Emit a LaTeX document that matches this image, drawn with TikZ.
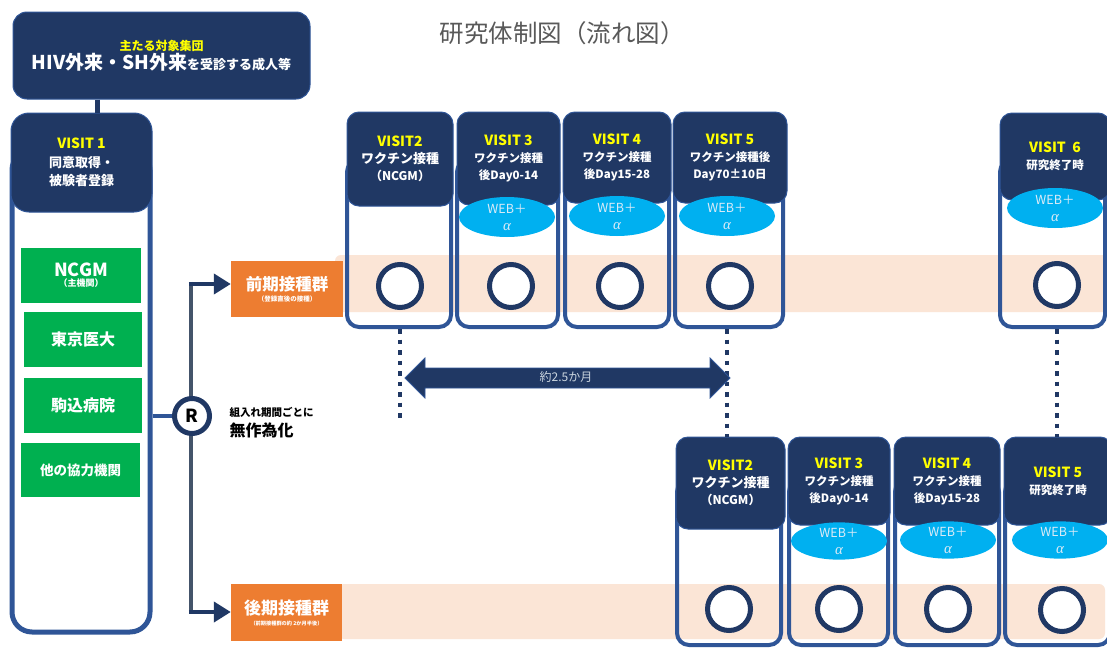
\documentclass[tikz,border=0pt]{standalone}
\usepackage{fontspec}
\setmainfont{Noto Sans CJK JP}
\newfontfamily\alphafont{Liberation Serif}
\usetikzlibrary{shapes.geometric,arrows.meta}
\definecolor{navy}{HTML}{203864}
\definecolor{bordblue}{HTML}{2F5597}
\definecolor{peach}{HTML}{FBE5D6}
\definecolor{orng}{HTML}{ED7D31}
\definecolor{grn}{HTML}{00B050}
\definecolor{cyanb}{HTML}{00B0F0}
\definecolor{yel}{HTML}{FFFF00}
\definecolor{lightt}{HTML}{DDEBF7}
\definecolor{vgray}{HTML}{44546A}
\definecolor{titlegray}{HTML}{595959}
\newcommand\fsz[2]{\fontsize{#1}{#2}\selectfont}
\newcommand\webtxt{WEB＋\\{\alphafont\itshape\fsz{15}{17}α}}
\begin{document}
\begin{tikzpicture}[x=1pt,y=-1pt,
  hdr/.style={draw=bordblue, line width=1pt, fill=navy, rounded corners=12pt, text=white, align=center, inner sep=0pt, font=\bfseries\fsz{11.5}{17}},
  outerbox/.style={draw=bordblue, line width=4pt, rounded corners=12pt, inner sep=0pt},
  web/.style={ellipse, fill=cyanb, minimum width=96pt, minimum height=40pt, inner sep=0pt, align=center, text=lightt, font=\fsz{12.5}{17}},
  ring/.style={circle, draw=navy, line width=5pt, fill=white, minimum size=43pt, inner sep=0pt},
  grnbox/.style={fill=grn, text=white, align=center, inner sep=0pt, font=\bfseries},
  orgbox/.style={fill=orng, text=white, align=center, inner sep=0pt, font=\bfseries},
  dots/.style={draw=navy, line width=4.5pt, dash pattern=on 4.5pt off 6pt},
  arr/.style={draw=navy, line width=4pt, -{Triangle[length=17pt,width=20pt]}}
]
\useasboundingbox (0,0) rectangle (1107,648);
\fill[white] (0,0) rectangle (1107,648);

% title
\node[text=titlegray, font=\fsz{24.5}{28}] (title) at (562,33) {研究体制図（流れ図）};

% top box
\node[hdr, rounded corners=14pt, minimum width=297pt, minimum height=87pt] (tb) at (161.5,55.5)
  {{\color{yel}\fsz{12}{18}主たる対象集団}\\{\fsz{19}{22}HIV外来・SH外来}{\fsz{13}{22}を受診する成人等}};

% VISIT 1 column
\node[outerbox, line width=5pt, rounded corners=20pt, minimum width=138pt, minimum height=482pt] (v1o) at (81,391) {};
\node[hdr, rounded corners=18pt, minimum width=141pt, minimum height=99pt, font=\bfseries\fsz{13}{18.5}] (v1h) at (81.5,162.5)
  {{\color{yel}\fsz{14}{18.5}VISIT 1}\\同意取得・\\被験者登録};
\coordinate (c1) at (97,0);
\draw[navy, line width=5pt] (tb.south -| c1) -- (v1h.north -| c1);

\node[grnbox, minimum width=120pt, minimum height=55pt] (g1) at (81,275.5)
  {{\fsz{18}{20}NCGM}\\[-2pt]{\fsz{9}{11}（主機関）}};
\node[grnbox, minimum width=118pt, minimum height=55pt, font=\bfseries\fsz{16}{18}] (g2) at (83,339.5) {東京医大};
\node[grnbox, minimum width=118pt, minimum height=55pt, font=\bfseries\fsz{16}{18}] (g3) at (83,405.5) {駒込病院};
\node[grnbox, minimum width=119pt, minimum height=54pt, font=\bfseries\fsz{13.5}{16}] (g4) at (80.5,470) {他の協力機関};

% bands
\fill[peach, rounded corners=6pt] (335,255) rectangle (1125,312);
\fill[peach, rounded corners=6pt] (338,584) rectangle (1105,639);

% orange group boxes
\node[orgbox, minimum width=112pt, minimum height=56pt] (pre) at (287,289)
  {{\fsz{16.5}{19}前期接種群}\\[-1pt]{\fsz{6.5}{8}（登録直後の接種）}};
\node[orgbox, minimum width=111pt, minimum height=57pt] (post) at (286.5,612.5)
  {{\fsz{17}{19}後期接種群}\\[-1pt]{\fsz{5.2}{7}（前期接種群の約 2か月半後）}};

% randomisation
\coordinate (ka) at (191,284);
\coordinate (kb) at (191,612);
\draw[vgray, line width=4.5pt] ([yshift=2.25pt]ka) -- (kb);
\draw[arr] ([xshift=-2.25pt]ka) -- (ka -| pre.west);
\draw[arr] ([xshift=-2.25pt]kb) -- (kb -| post.west);
\node[ring, minimum size=35pt, font=\bfseries\fsz{18}{20}, text=black] (R) at (192,416) {R};
\draw[bordblue, line width=4pt] (v1o.east |- R) -- (R.west);
\node[anchor=west, font=\bfseries\fsz{10.5}{12}] (rt1) at (226,412) {組入れ期間ごとに};
\node[anchor=west, font=\bfseries\fsz{16}{18}] (rt2) at (226,430) {無作為化};

% top row outer columns
\node[outerbox, minimum width=104pt, minimum height=167pt] (v2o) at (399,243.5) {};
\node[outerbox, minimum width=101pt, minimum height=167pt] (v3o) at (507.5,243.5) {};
\node[outerbox, minimum width=104pt, minimum height=167pt] (v4o) at (617,243.5) {};
\node[outerbox, minimum width=108pt, minimum height=167pt] (v5o) at (729,243.5) {};
\node[outerbox, minimum width=105pt, minimum height=167pt] (v6o) at (1052.5,243.5) {};

% top row headers
\node[hdr, minimum width=106pt, minimum height=94pt, font=\bfseries\fsz{13}{17}] (v2h) at (400,159)
  {{\color{yel}\fsz{14}{17}VISIT2}\\ワクチン接種\\{\fsz{12}{17}（NCGM）}};
\node[hdr, minimum width=103pt, minimum height=93pt] (v3h) at (508.5,158.5)
  {{\color{yel}\fsz{14}{17}VISIT 3}\\ワクチン接種\\後Day0-14};
\node[hdr, minimum width=108pt, minimum height=91pt] (v4h) at (617,157.5)
  {{\color{yel}\fsz{14}{17}VISIT 4}\\ワクチン接種\\後Day15-28};
\node[hdr, minimum width=114pt, minimum height=91pt] (v5h) at (730,157.5)
  {{\color{yel}\fsz{14}{17}VISIT 5}\\ワクチン接種後\\Day70±10日};
\node[hdr, minimum width=110pt, minimum height=87pt] (v6h) at (1055,156.5)
  {{\color{yel}\fsz{14}{17}VISIT\ \ 6}\\研究終了時};

% top row ellipses
\node[web] (w3) at (507,217) {\webtxt};
\node[web] (w4) at (617,216) {\webtxt};
\node[web] (w5) at (727,216) {\webtxt};
\node[web] (w6) at (1055,208) {\webtxt};

% top row rings
\node[ring] (r2) at (400,286) {};
\node[ring] (r3) at (511,286) {};
\node[ring] (r4) at (620,286) {};
\node[ring] (r5) at (730,286) {};
\node[ring] (r6) at (1057,285) {};

% bottom row outer columns
\node[outerbox, minimum width=104pt, minimum height=165pt] (b2o) at (729,562.5) {};
\node[outerbox, minimum width=99pt, minimum height=165pt] (b3o) at (838.5,562.5) {};
\node[outerbox, minimum width=104pt, minimum height=165pt] (b4o) at (947,562.5) {};
\node[outerbox, minimum width=105pt, minimum height=165pt] (b5o) at (1057.5,562.5) {};

% bottom row headers
\node[hdr, minimum width=109pt, minimum height=92pt, font=\bfseries\fsz{13}{17}] (b2h) at (730.5,483)
  {{\color{yel}\fsz{14}{17}VISIT2}\\ワクチン接種\\{\fsz{12}{17}（NCGM）}};
\node[hdr, minimum width=102pt, minimum height=88pt] (b3h) at (839,481)
  {{\color{yel}\fsz{14}{17}VISIT 3}\\ワクチン接種\\後Day0-14};
\node[hdr, minimum width=106pt, minimum height=88pt] (b4h) at (947,481)
  {{\color{yel}\fsz{14}{17}VISIT 4}\\ワクチン接種\\後Day15-28};
\node[hdr, minimum width=108pt, minimum height=88pt] (b5h) at (1058,481)
  {{\color{yel}\fsz{14}{17}VISIT 5}\\研究終了時};

% bottom row ellipses
\node[web, minimum height=36pt] (x3) at (839,541) {\webtxt};
\node[web, minimum height=36pt] (x4) at (948,540) {\webtxt};
\node[web, minimum height=36pt] (x5) at (1060,540) {\webtxt};

% bottom row rings
\node[ring] (s2) at (729,609) {};
\node[ring] (s3) at (839,609) {};
\node[ring] (s4) at (948,609) {};
\node[ring] (s5) at (1062,610) {};

% dotted lines
\coordinate (d1) at (400,420);
\draw[dots] (v2o.south -| d1) -- (d1);
\coordinate (d2) at (727,0);
\draw[dots] (v5o.south -| d2) -- (b2h.north -| d2);
\coordinate (d3) at (1057,0);
\draw[dots] (v6o.south -| d3) -- (b5h.north -| d3);

% double arrow
\draw[fill=navy, draw=bordblue, line width=0.8pt]
  (405,378) -- (425,358) -- (425,368) -- (710,368) -- (710,358) -- (730,378)
  -- (710,398) -- (710,388) -- (425,388) -- (425,398) -- cycle;
\node[text=lightt!80!gray, font=\fsz{12}{14}] (span) at (566,377) {約2.5か月};
\end{tikzpicture}
\end{document}
